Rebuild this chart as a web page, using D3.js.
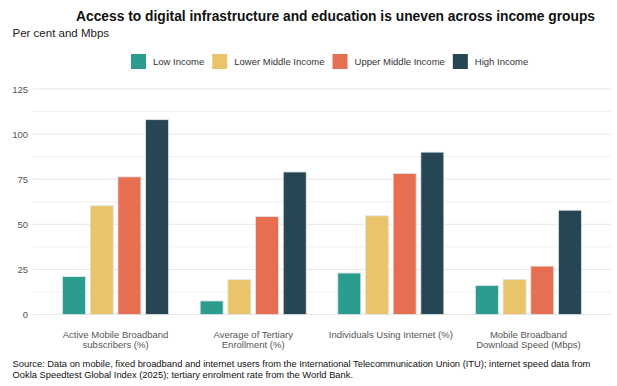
<!DOCTYPE html>
<html>
<head>
<meta charset="utf-8">
<script src="https://cdn.jsdelivr.net/npm/d3@7"></script>
<style>
  body { margin: 0; background: #fff; }
  text { font-family: "Liberation Sans", Arial, sans-serif; }
</style>
</head>
<body>
<div id="chart"></div>
<script>
// chart data
var categories = ["mobileBroadband", "tertiary", "internetUsers", "downloadSpeed"];
var categoryLabels = [
  ["Active Mobile Broadband", "subscribers (%)"],
  ["Average of Tertiary", "Enrollment (%)"],
  ["Individuals Using Internet (%)"],
  ["Mobile Broadband", "Download Speed (Mbps)"]
];
var seriesNames = ["Low Income", "Lower Middle Income", "Upper Middle Income", "High Income"];
var lowIncome = [21, 7.5, 23, 16];
var lowerMiddleIncome = [60.3, 19.3, 54.7, 19.5];
var upperMiddleIncome = [76.3, 54.3, 78.2, 26.8];
var highIncome = [108, 79, 90, 57.8];
var yTicks = [0, 25, 50, 75, 100, 125];

var colors = ["#2a9d8f", "#e9c46a", "#e76f51", "#264653"];
var seriesValues = [lowIncome, lowerMiddleIncome, upperMiddleIncome, highIncome];

var svgWidth = 617;
var svgHeight = 386;

var margin = { top: 89, right: 6, bottom: 71.5, left: 33 };
var width = svgWidth - margin.left - margin.right;
var height = svgHeight - margin.top - margin.bottom;

var svg = d3.select("#chart")
  .append("svg")
  .attr("width", svgWidth)
  .attr("height", svgHeight);

// title + subtitle
svg.append("text")
  .attr("x", 76)
  .attr("y", 20.5)
  .style("font-size", "13.8px")
  .style("font-weight", "bold")
  .attr("fill", "#111")
  .text("Access to digital infrastructure and education is uneven across income groups");

svg.append("text")
  .attr("x", 12.5)
  .attr("y", 36.5)
  .style("font-size", "11.5px")
  .attr("fill", "#222")
  .text("Per cent and Mbps");

// legend
var legend = svg.append("g").attr("transform", "translate(131, 54)");
var lx = 0;
seriesNames.forEach(function(name, i) {
  var item = legend.append("g").attr("transform", `translate(${lx}, 0)`);
  item.append("rect")
    .attr("width", 15)
    .attr("height", 15)
    .attr("fill", colors[i]);
  var t = item.append("text")
    .attr("x", 22)
    .attr("y", 11)
    .style("font-size", "9.5px")
    .attr("fill", "#333")
    .text(name);
  lx += 22 + t.node().getComputedTextLength() + 8;
});

var chartGroup = svg.append("g")
  .attr("transform", `translate(${margin.left}, ${margin.top})`);

// scales
var x0 = d3.scaleBand()
  .domain(categories)
  .range([0, width])
  .paddingInner(0)
  .paddingOuter(0.1);

var x1 = d3.scaleBand()
  .domain(seriesNames)
  .range([0, x0.bandwidth()])
  .paddingInner(0.17)
  .paddingOuter(0.57);

var y = d3.scaleLinear()
  .domain([0, 125])
  .range([height, 0]);

// gridlines (major + minor)
chartGroup.append("g")
  .selectAll("line")
  .data(d3.range(0, 126, 12.5))
  .enter()
  .append("line")
  .attr("x1", 0)
  .attr("x2", width)
  .attr("y1", d => y(d))
  .attr("y2", d => y(d))
  .attr("stroke", d => d % 25 === 0 ? "#e6e6e6" : "#f0f0f0")
  .attr("stroke-width", 1);

// y axis labels
var leftAxis = d3.axisLeft(y).tickValues(yTicks).tickSize(0).tickPadding(5);
var yAxis = chartGroup.append("g").call(leftAxis);
yAxis.select(".domain").remove();
yAxis.selectAll("text")
  .style("font-size", "9.5px")
  .style("font-family", "Liberation Sans, Arial, sans-serif")
  .attr("fill", "#555");

// bars
var groups = chartGroup.selectAll(".group")
  .data(categories)
  .enter()
  .append("g")
  .attr("class", "group")
  .attr("transform", d => `translate(${x0(d)}, 0)`);

groups.selectAll("rect")
  .data((d, ci) => seriesNames.map((s, si) => ({ series: s, value: seriesValues[si][ci], color: colors[si] })))
  .enter()
  .append("rect")
  .attr("x", d => x1(d.series))
  .attr("y", d => y(d.value))
  .attr("width", x1.bandwidth())
  .attr("height", d => y(0) - y(d.value))
  .attr("fill", d => d.color)
  .attr("stroke", "#dfe6e8")
  .attr("stroke-width", 0.8);

// x axis labels
var bottomAxis = d3.axisBottom(x0).tickSize(0).tickFormat("");
var xAxis = chartGroup.append("g")
  .attr("transform", `translate(0, ${height})`)
  .call(bottomAxis);
xAxis.select(".domain").remove();

xAxis.selectAll(".tick")
  .each(function(d, i) {
    var t = d3.select(this).append("text")
      .attr("y", 23)
      .attr("text-anchor", "middle")
      .attr("fill", "#555")
      .style("font-size", "9.5px")
      .style("font-family", "Liberation Sans, Arial, sans-serif");
    categoryLabels[i].forEach(function(line, j) {
      t.append("tspan")
        .attr("x", 0)
        .attr("dy", j === 0 ? 0 : 10.5)
        .text(line);
    });
  });

// source note
var source = svg.append("text")
  .attr("x", 12.5)
  .attr("y", 367)
  .style("font-size", "9.35px")
  .attr("fill", "#111");
source.append("tspan")
  .attr("x", 12.5)
  .text("Source: Data on mobile, fixed broadband and internet users from the International Telecommunication Union (ITU); internet speed data from");
source.append("tspan")
  .attr("x", 12.5)
  .attr("dy", 11)
  .text("Ookla Speedtest Global Index (2025); tertiary enrolment rate from the World Bank.");
</script>
</body>
</html>
